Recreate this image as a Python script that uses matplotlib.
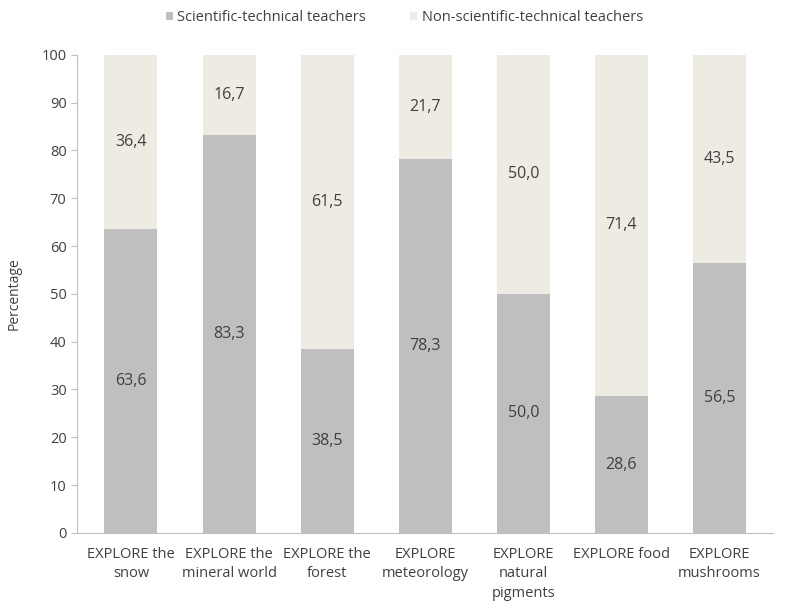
import matplotlib.pyplot as plt
import numpy as np

categories = ["EXPLORE the\nsnow", "EXPLORE the\nmineral world", "EXPLORE the\nforest",
              "EXPLORE\nmeteorology", "EXPLORE\nnatural\npigments", "EXPLORE food",
              "EXPLORE\nmushrooms"]
sci_tech = [63.6, 83.3, 38.5, 78.3, 50.0, 28.6, 56.5]
non_sci_tech = [36.4, 16.7, 61.5, 21.7, 50.0, 71.4, 43.5]

plt.rcParams["font.family"] = ["Open Sans", "DejaVu Sans"]

fig = plt.figure(figsize=(8.05, 6.09), dpi=100)
ax = fig.add_axes([0.0957, 0.125, 0.865, 0.785])

x = np.arange(len(categories))
c1 = "#bfbfbf"
c2 = "#eeebe3"
ax.bar(x, sci_tech, width=0.54, color=c1, label="Scientific-technical teachers")
ax.bar(x, non_sci_tech, width=0.54, bottom=sci_tech, color=c2,
       label="Non-scientific-technical teachers")

# value labels in the middle of each segment
for i in range(len(categories)):
    ax.text(x[i], sci_tech[i] / 2, f"{sci_tech[i]:.1f}".replace(".", ","),
            ha="center", va="center", fontsize=11.5, color="#404040")
    ax.text(x[i], sci_tech[i] + non_sci_tech[i] / 2,
            f"{non_sci_tech[i]:.1f}".replace(".", ","),
            ha="center", va="center", fontsize=11.5, color="#404040")

ax.set_xlim(-0.55, len(categories) - 0.45)
ax.set_ylim(0, 100)
ax.set_yticks(range(0, 101, 10))
ax.set_xticks(x)
ax.set_xticklabels(categories, fontsize=10.5, color="#404040", linespacing=1.4)
ax.tick_params(axis="y", labelsize=10.5, colors="#404040", length=4, color="#bfbfbf")
ax.tick_params(axis="x", length=0, pad=10)
ax.set_ylabel("Percentage", fontsize=10, color="#404040", labelpad=14)

for s in ["top", "right"]:
    ax.spines[s].set_visible(False)
ax.spines["left"].set_color("#bfbfbf")
ax.spines["bottom"].set_color("#bfbfbf")

ax.legend(loc="lower center", bbox_to_anchor=(0.47, 1.035), ncol=2, frameon=False,
          fontsize=10.5, handlelength=0.5, handleheight=0.5, handletextpad=0.3,
          columnspacing=3, labelcolor="#404040")

fig.savefig("out.png", dpi=100)
